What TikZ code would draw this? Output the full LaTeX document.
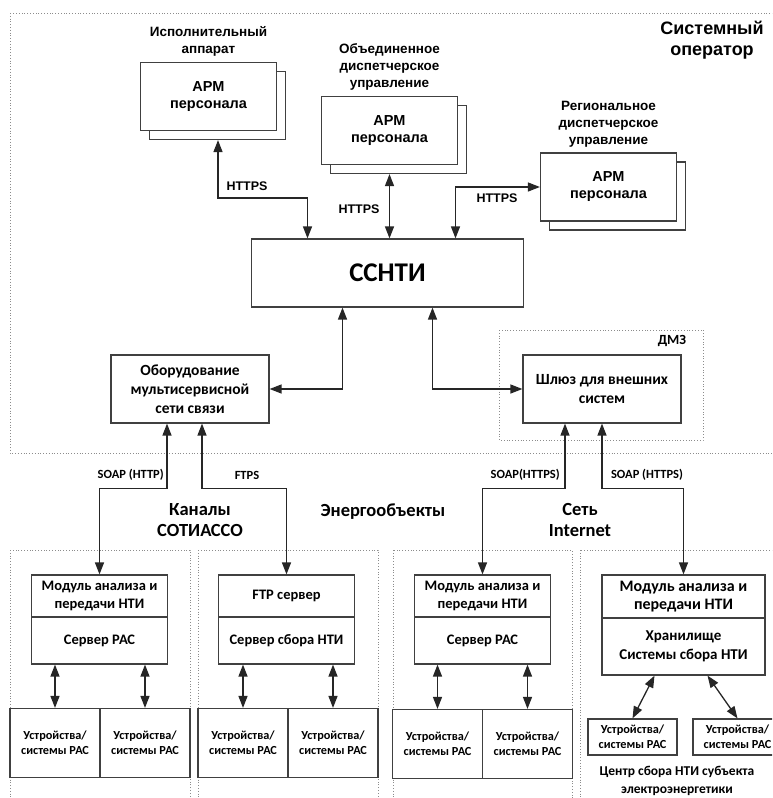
\documentclass[tikz,border=0pt]{standalone}
\usepackage{fontspec}
\setmainfont{Carlito}
\newfontfamily\arialfont{Liberation Sans}
\usetikzlibrary{arrows.meta, positioning, shadows}

\tikzset{
  box/.style={draw=black!75, line width=1.2pt, fill=white, align=center, inner sep=2pt,
    font=\bfseries\fontsize{14.5}{18}\selectfont},
  apmbox/.style={box, minimum width=136pt, minimum height=68pt,
    font=\arialfont\bfseries\fontsize{14.5}{17}\selectfont,
    copy shadow={shadow xshift=9pt, shadow yshift=-9pt}},
  devbox/.style={box, minimum width=90pt, minimum height=69pt,
    font=\bfseries\fontsize{12.3}{15}\selectfont},
  zone/.style={draw=black!45, dotted, line width=0.8pt},
  link/.style={<->, draw=black!85, line width=1.3pt},
  toplabel/.style={align=center, inner sep=1pt, font=\arialfont\bfseries\fontsize{13.5}{17}\selectfont},
  proto/.style={inner sep=1pt, font=\arialfont\bfseries\fontsize{12.5}{14}\selectfont},
  soap/.style={inner sep=1pt, font=\bfseries\fontsize{12.5}{14}\selectfont},
  area/.style={align=center, inner sep=1pt, font=\bfseries\fontsize{18.5}{21}\selectfont},
}

\begin{document}
\begin{tikzpicture}[x=1pt, y=-1pt, >={Triangle[length=12pt, width=9pt]}]
  \clip (0,0) rectangle (772,798);
  \fill[white] (0,0) rectangle (772,798);
  % Системный оператор
  \draw[zone] (10,13) rectangle (790,453);
  \node[align=center, font=\arialfont\bfseries\fontsize{18}{21}\selectfont] (so) at (712,40) {Системный\\оператор};
  \node[apmbox] (apm1) at (208.5,96.5) {АРМ\\персонала};
  \node[apmbox] (apm2) at (389.5,130.5) {АРМ\\персонала};
  \node[apmbox] (apm3) at (608.5,187) {АРМ\\персонала};
  \node[toplabel, above=4pt of apm1] (lbl1) {Исполнительный\\аппарат};
  \node[toplabel, above=4pt of apm2] (lbl2) {Объединенное\\диспетчерское\\управление};
  \node[toplabel, above=4pt of apm3] (lbl3) {Региональное\\диспетчерское\\управление};
  \node[box, minimum width=272pt, minimum height=68pt, font=\bfseries\fontsize{27}{30}\selectfont] (ssnti) at (387.5,273) {ССНТИ};
  \node[box, minimum width=158pt, minimum height=68pt, font=\bfseries\fontsize{15.5}{19}\selectfont] (obor) at (190,389) {Оборудование\\мультисервисной\\сети связи};
  % ДМЗ
  \draw[zone] (499,330) rectangle (703,440);
  \node[font=\bfseries\fontsize{14}{17}\selectfont] (dmz) at (672,341) {ДМЗ};
  \node[box, minimum width=158pt, minimum height=68pt, font=\bfseries\fontsize{15.5}{19}\selectfont] (shluz) at (602,389) {Шлюз для внешних\\систем};
  % HTTPS
  \draw[link] ([shift={(9.5,9)}]apm1.south) -- ++(0,58) -| ([xshift=-80pt]ssnti.north);
  \node[proto] (h1) at (247,186) {HTTPS};
  \draw[link] ([yshift=-9pt]apm2.south) -- (apm2.south |- ssnti.north);
  \node[proto] (h2) at (359,209) {HTTPS};
  \draw[link] ([xshift=68pt]ssnti.north) |- (apm3.west);
  \node[proto] (h3) at (497,198) {HTTPS};
  \draw[link] ([xshift=-45pt]ssnti.south) |- (obor.east);
  \draw[link] ([xshift=45pt]ssnti.south) |- (shluz.west);
  % Энергообъекты
  \draw[zone] (10,550) rectangle (190,810);
  \draw[zone] (198,550) rectangle (378,810);
  \draw[zone] (393,550) rectangle (572,810);
  \draw[zone] (580,550) rectangle (790,810);
  \node[area] (kan) at (200,520) {Каналы\\СОТИАССО};
  \node[area] (eo) at (383,512) {Энергообъекты};
  \node[area] (net) at (580,520) {Сеть\\Internet};
  \node[box, minimum width=136pt, minimum height=42pt] (mod1) at (99.5,596) {Модуль анализа и\\передачи НТИ};
  \node[box, minimum width=136pt, minimum height=47pt, below=-1.2pt of mod1] (srv1) {Сервер РАС};
  \node[box, minimum width=136pt, minimum height=42pt] (ftp) at (286.5,596) {FTP сервер};
  \node[box, minimum width=136pt, minimum height=47pt, below=-1.2pt of ftp] (ftpsrv) {Сервер сбора НТИ};
  \node[box, minimum width=136pt, minimum height=42pt] (mod3) at (482.5,596) {Модуль анализа и\\передачи НТИ};
  \node[box, minimum width=136pt, minimum height=47pt, below=-1.2pt of mod3] (srv3) {Сервер РАС};
  \node[box, minimum width=163pt, minimum height=43pt, font=\bfseries\fontsize{16}{18}\selectfont] (mod4) at (683.5,596.5) {Модуль анализа и\\передачи НТИ};
  \node[box, minimum width=163pt, minimum height=57pt, font=\bfseries\fontsize{15}{19}\selectfont, below=-1.2pt of mod4] (store) {Хранилище\\Системы сбора НТИ};
  \draw[link] ([xshift=-23pt]obor.south) -- ++(0,65) -| (mod1.north);
  \node[soap, anchor=east] (s1) at (165,475) {SOAP (HTTP)};
  \draw[link] ([xshift=12pt]obor.south) -- ++(0,65) -| (ftp.north);
  \node[soap] (s2) at (247,475) {FTPS};
  \draw[link] ([xshift=-37pt]shluz.south) -- ++(0,65) -| (mod3.north);
  \node[soap, anchor=east] (s3) at (561,475) {SOAP(HTTPS)};
  \draw[link] (shluz.south) -- ++(0,65) -| (mod4.north);
  \node[soap] (s4) at (647,475) {SOAP (HTTPS)};
  % Устройства/системы РАС
  \node[devbox] (dev1a) at (55,743) {Устройства/\\системы РАС};
  \node[devbox, right=-1.2pt of dev1a] (dev1b) {Устройства/\\системы РАС};
  \node[devbox] (dev2a) at (243,743) {Устройства/\\системы РАС};
  \node[devbox, right=-1.2pt of dev2a] (dev2b) {Устройства/\\системы РАС};
  \node[devbox] (dev3a) at (437.5,744) {Устройства/\\системы РАС};
  \node[devbox, right=-1.2pt of dev3a] (dev3b) {Устройства/\\системы РАС};
  \node[devbox, minimum width=89pt, minimum height=36pt] (dev4a) at (632.5,737) {Устройства/\\системы РАС};
  \node[devbox, minimum width=89pt, minimum height=36pt] (dev4b) at (737.5,737) {Устройства/\\системы РАС};
  \foreach \d/\s in {dev1a/srv1, dev1b/srv1, dev2a/ftpsrv, dev2b/ftpsrv, dev3a/srv3, dev3b/srv3}
    \draw[link] (\d.north) -- (\d.north |- \s.south);
  \draw[link] ([xshift=-29pt]store.south) -- (dev4a.north);
  \draw[link] ([xshift=24pt]store.south) -- (dev4b.north);
  \node[align=center, font=\bfseries\fontsize{13.5}{18}\selectfont] (centr) at (677,781) {Центр сбора НТИ субъекта\\электроэнергетики};
\end{tikzpicture}
\end{document}
